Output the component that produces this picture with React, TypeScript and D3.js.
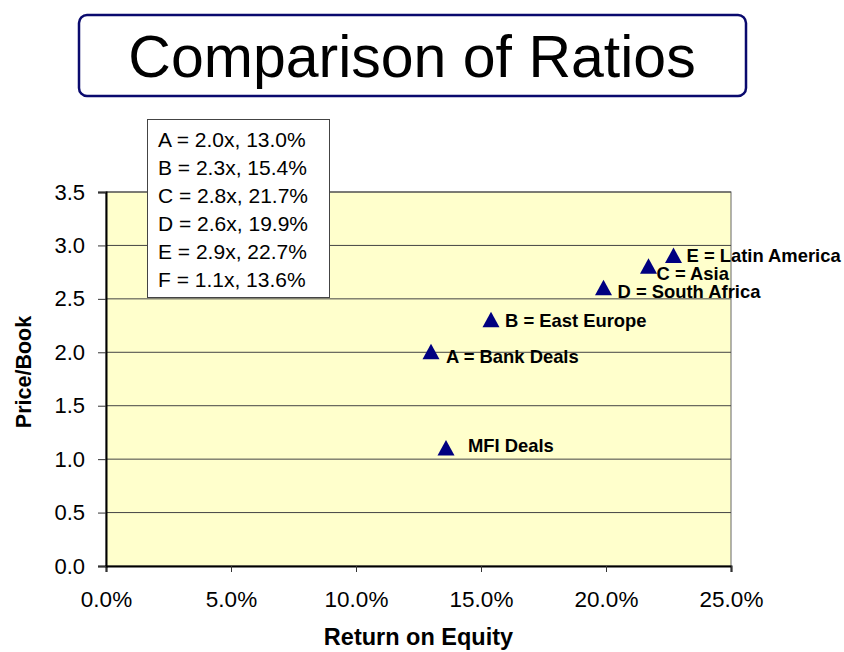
import { useEffect, useRef } from "react";
import * as d3 from "d3";

// Data
const KEY_LETTERS = ["A", "B", "C", "D", "E", "F"];
const POINT_LABELS = [
  "A = Bank Deals",
  "B = East Europe",
  "C = Asia",
  "D = South Africa",
  "E = Latin America",
  "MFI Deals",
];
const ROE = [13.0, 15.4, 21.7, 19.9, 22.7, 13.6];
const PRICE_BOOK = [2.0, 2.3, 2.8, 2.6, 2.9, 1.1];
const X_TICKS = [0, 5, 10, 15, 20, 25];
const Y_TICKS = [0, 0.5, 1, 1.5, 2, 2.5, 3, 3.5];

// label placement (dx, dy from marker), hand-placed like the original
const LABEL_OFFSETS: [number, number][] = [
  [15, 11],
  [14, 7],
  [8, 13],
  [14, 10],
  [13, 6],
  [22, 4],
];

const FONT = "'Liberation Sans', Arial, Helvetica, sans-serif";
const W = 844;
const H = 652;

export default function App() {
  const svgRef = useRef<SVGSVGElement>(null);

  useEffect(() => {
    if (!svgRef.current) return;
    const svg = d3.select(svgRef.current);
    svg.selectAll("*").remove();

    const plot = { left: 106, right: 731, top: 192, bottom: 566 };
    const x = d3.scaleLinear().domain([0, 25]).range([plot.left, plot.right]);
    const y = d3.scaleLinear().domain([0, 3.5]).range([plot.bottom, plot.top]);

    // Title box
    svg.append("rect")
      .attr("x", 79).attr("y", 15)
      .attr("width", 667).attr("height", 81)
      .attr("rx", 8)
      .attr("fill", "#fff")
      .attr("stroke", "#0a0a6e")
      .attr("stroke-width", 2.5);
    svg.append("text")
      .attr("x", 412).attr("y", 77)
      .attr("text-anchor", "middle")
      .attr("font-family", FONT)
      .attr("font-size", 59)
      .attr("fill", "#000")
      .text("Comparison of Ratios");

    // Plot background
    svg.append("rect")
      .attr("x", plot.left).attr("y", plot.top)
      .attr("width", plot.right - plot.left)
      .attr("height", plot.bottom - plot.top)
      .attr("fill", "#ffffcc")
      .attr("stroke", "#666")
      .attr("stroke-width", 1);

    // Gridlines
    svg.append("g")
      .selectAll("line")
      .data(Y_TICKS.filter((t) => t > 0))
      .join("line")
      .attr("x1", plot.left).attr("x2", plot.right)
      .attr("y1", (d) => y(d)).attr("y2", (d) => y(d))
      .attr("stroke", "#444")
      .attr("stroke-width", 1);

    // X axis
    svg.append("g")
      .attr("transform", `translate(0,${plot.bottom})`)
      .call(
        d3.axisBottom(x)
          .tickValues(X_TICKS)
          .tickFormat((d) => `${(+d).toFixed(1)}%`)
          .tickSize(6)
          .tickPadding(19)
      )
      .call((ax) => ax.select(".domain").attr("stroke", "#000").attr("stroke-width", 2))
      .call((ax) => ax.selectAll(".tick line").attr("stroke", "#333"))
      .call((ax) =>
        ax.selectAll("text")
          .attr("fill", "#000")
          .attr("font-family", FONT)
          .attr("font-size", 22.5)
      );

    // Y axis
    svg.append("g")
      .attr("transform", `translate(${plot.left},0)`)
      .call(
        d3.axisLeft(y)
          .tickValues(Y_TICKS)
          .tickFormat((d) => (+d).toFixed(1))
          .tickSize(8)
          .tickPadding(13)
      )
      .call((ax) => ax.select(".domain").attr("stroke", "#000").attr("stroke-width", 2))
      .call((ax) => ax.selectAll(".tick line").attr("stroke", "#333"))
      .call((ax) =>
        ax.selectAll("text")
          .attr("fill", "#000")
          .attr("font-family", FONT)
          .attr("font-size", 22)
      );

    // Axis titles
    svg.append("text")
      .attr("x", (plot.left + plot.right) / 2).attr("y", 645)
      .attr("text-anchor", "middle")
      .attr("font-family", FONT)
      .attr("font-weight", "bold")
      .attr("font-size", 23.5)
      .text("Return on Equity");
    svg.append("text")
      .attr("transform", "translate(31,372) rotate(-90)")
      .attr("text-anchor", "middle")
      .attr("font-family", FONT)
      .attr("font-weight", "bold")
      .attr("font-size", 21.5)
      .text("Price/Book");

    // Markers and labels
    const tri = "M0,-8.5L8.5,7L-8.5,7Z";
    const pts = svg.append("g");
    ROE.forEach((r, i) => {
      const px = x(r);
      const py = y(PRICE_BOOK[i]);
      pts.append("path")
        .attr("d", tri)
        .attr("transform", `translate(${px},${py})`)
        .attr("fill", "#000080");
      pts.append("text")
        .attr("x", px + LABEL_OFFSETS[i][0])
        .attr("y", py + LABEL_OFFSETS[i][1])
        .attr("font-family", FONT)
        .attr("font-weight", "bold")
        .attr("font-size", 18.4)
        .attr("fill", "#000")
        .text(POINT_LABELS[i]);
    });

    // Key box
    svg.append("rect")
      .attr("x", 147.5).attr("y", 119.5)
      .attr("width", 182).attr("height", 178)
      .attr("fill", "#fff")
      .attr("stroke", "#444")
      .attr("stroke-width", 1);
    svg.append("g")
      .selectAll("text")
      .data(KEY_LETTERS)
      .join("text")
      .attr("x", 158)
      .attr("y", (_, i) => 147 + i * 28)
      .attr("font-family", FONT)
      .attr("font-size", 21)
      .attr("fill", "#000")
      .text((l, i) => `${l} = ${PRICE_BOOK[i].toFixed(1)}x, ${ROE[i].toFixed(1)}%`);
  }, []);

  return (
    <svg
      ref={svgRef}
      width={W}
      height={H}
      style={{ position: "absolute", left: 0, top: 0, background: "#fff" }}
    />
  );
}
